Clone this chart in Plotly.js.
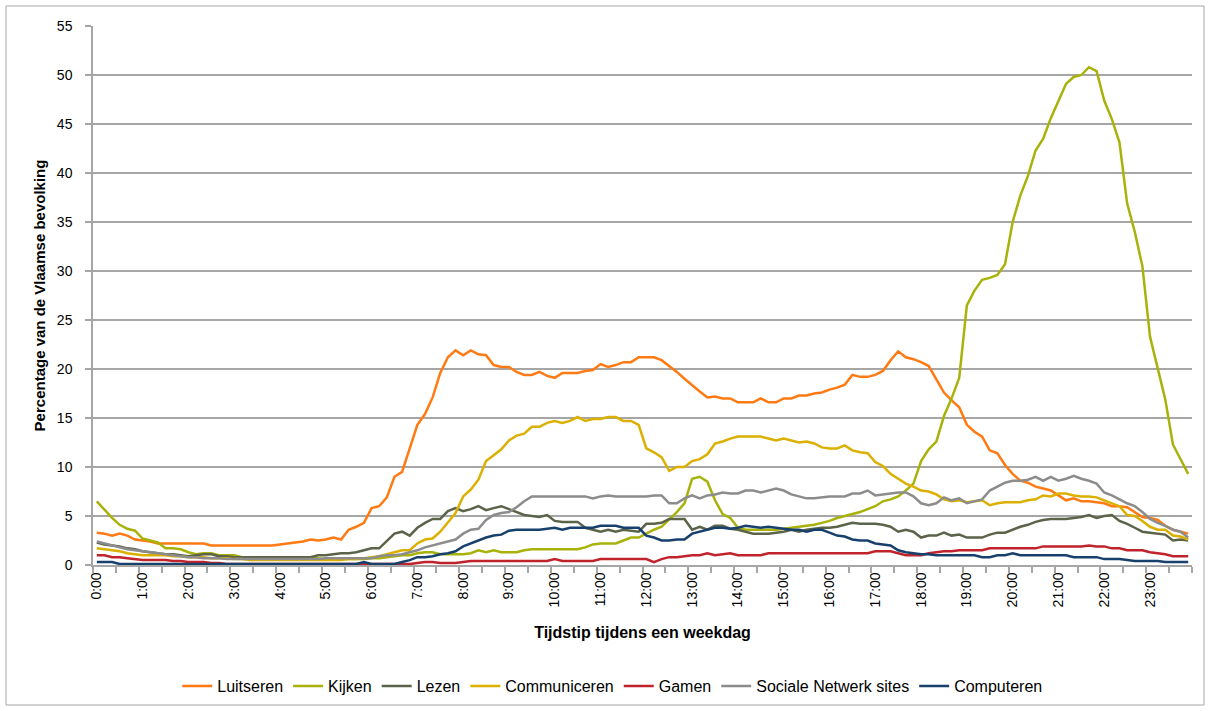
<!DOCTYPE html>
<html><head><meta charset="utf-8">
<script src="https://cdn.plot.ly/plotly-3.0.1.min.js"></script>
<style>html,body{margin:0;padding:0;background:#fff}#chart{width:1210px;height:711px}</style>
</head><body><div id="chart"></div>
<script>
// Categories: 10-minute slots of a weekday
const hourLabels = ['0:00','1:00','2:00','3:00','4:00','5:00','6:00','7:00','8:00','9:00','10:00','11:00','12:00','13:00','14:00','15:00','16:00','17:00','18:00','19:00','20:00','21:00','22:00','23:00'];
const minuteLabels = ['00','10','20','30','40','50'];
const times = [];
hourLabels.forEach(h => minuteLabels.forEach(m => times.push(h.split(':')[0] + ':' + m)));

const luitseren = [3.3,3.2,3.0,3.2,3.0,2.6,2.5,2.4,2.2,2.2,2.2,2.2,
2.2,2.2,2.2,2.0,2.0,2.0,2.0,2.0,2.0,2.0,2.0,2.0,
2.1,2.2,2.3,2.4,2.6,2.5,2.6,2.8,2.6,3.6,3.9,4.3,
5.8,6.0,6.9,9.0,9.5,11.8,14.3,15.4,17.1,19.6,21.2,21.9,
21.4,21.9,21.5,21.4,20.4,20.2,20.2,19.7,19.4,19.4,19.7,19.3,
19.1,19.6,19.6,19.6,19.8,19.9,20.5,20.2,20.4,20.7,20.7,21.2,
21.2,21.2,20.9,20.3,19.7,19.0,18.3,17.7,17.1,17.2,17.0,17.0,
16.6,16.6,16.6,17.0,16.6,16.6,17.0,17.0,17.3,17.3,17.5,17.6,
17.9,18.1,18.4,19.4,19.2,19.2,19.4,19.8,20.9,21.8,21.2,21.0,
20.7,20.3,19.0,17.6,16.8,16.1,14.3,13.6,13.1,11.7,11.4,10.2,
9.3,8.6,8.4,8.0,7.8,7.6,7.1,6.6,6.8,6.5,6.5,6.4,
6.3,6.0,6.0,5.9,5.4,4.9,4.8,4.6,4.0,3.6,3.4,3.2];

const kijken = [6.5,5.6,4.8,4.1,3.7,3.5,2.7,2.5,2.3,1.7,1.7,1.6,
1.3,1.1,1.2,1.2,1.0,1.0,1.0,0.8,0.8,0.8,0.7,0.7,
0.7,0.7,0.7,0.7,0.7,0.7,0.6,0.6,0.6,0.6,0.6,0.6,
0.7,0.7,0.8,0.9,1.0,1.0,1.2,1.3,1.3,1.1,1.1,1.1,
1.1,1.2,1.5,1.3,1.5,1.3,1.3,1.3,1.5,1.6,1.6,1.6,
1.6,1.6,1.6,1.6,1.8,2.1,2.2,2.2,2.2,2.5,2.8,2.8,
3.2,3.6,3.9,4.6,5.4,6.3,8.8,9.0,8.5,6.6,5.2,4.8,
3.8,3.6,3.6,3.6,3.6,3.6,3.7,3.8,3.9,4.0,4.1,4.3,
4.5,4.8,5.0,5.2,5.4,5.7,6.0,6.5,6.7,7.0,7.6,8.3,
10.6,11.8,12.6,15.2,17.0,19.1,26.5,28.0,29.1,29.3,29.6,30.7,
35.0,37.7,39.7,42.3,43.5,45.6,47.4,49.1,49.8,50.0,50.8,50.4,
47.4,45.5,43.1,36.9,34.0,30.5,23.3,20.0,16.9,12.3,10.8,9.3];

const lezen = [2.3,2.1,2.0,1.9,1.7,1.6,1.4,1.3,1.2,1.1,1.1,1.0,
0.9,1.0,1.1,1.1,0.9,0.9,0.8,0.8,0.8,0.8,0.8,0.8,
0.8,0.8,0.8,0.8,0.8,1.0,1.0,1.1,1.2,1.2,1.3,1.5,
1.7,1.7,2.4,3.2,3.4,3.0,3.8,4.3,4.7,4.7,5.5,5.8,
5.5,5.7,6.0,5.6,5.8,6.0,5.7,5.4,5.1,5.0,4.9,5.1,
4.5,4.4,4.4,4.4,3.8,3.6,3.4,3.6,3.4,3.6,3.5,3.4,
4.2,4.2,4.3,4.7,4.7,4.7,3.6,3.9,3.6,4.0,4.0,3.7,
3.6,3.4,3.2,3.2,3.2,3.3,3.4,3.6,3.4,3.6,3.7,3.8,
3.8,3.9,4.1,4.3,4.2,4.2,4.2,4.1,3.9,3.4,3.6,3.4,
2.8,3.0,3.0,3.3,3.0,3.1,2.8,2.8,2.8,3.1,3.3,3.3,
3.6,3.9,4.1,4.4,4.6,4.7,4.7,4.7,4.8,4.9,5.1,4.8,
5.0,5.1,4.5,4.2,3.8,3.4,3.3,3.2,3.1,2.5,2.6,2.5];

const communiceren = [1.7,1.6,1.5,1.4,1.2,1.1,1.0,1.0,1.0,1.0,0.9,0.9,
0.8,0.8,0.8,0.7,0.7,0.7,0.6,0.6,0.5,0.5,0.5,0.5,
0.5,0.5,0.5,0.5,0.5,0.5,0.5,0.5,0.5,0.6,0.6,0.7,
0.8,0.9,1.1,1.3,1.5,1.5,2.2,2.6,2.7,3.4,4.3,5.3,
7.0,7.7,8.7,10.6,11.2,11.8,12.7,13.2,13.4,14.1,14.1,14.5,
14.7,14.5,14.7,15.1,14.7,14.9,14.9,15.1,15.1,14.7,14.7,14.3,
11.9,11.5,11.0,9.6,10.0,10.0,10.6,10.8,11.3,12.4,12.6,12.9,
13.1,13.1,13.1,13.1,12.9,12.7,12.9,12.7,12.5,12.6,12.4,12.0,
11.9,11.9,12.2,11.7,11.5,11.4,10.5,10.1,9.3,8.8,8.3,8.0,
7.6,7.5,7.2,6.7,6.5,6.6,6.4,6.5,6.6,6.1,6.3,6.4,
6.4,6.4,6.6,6.7,7.1,7.0,7.3,7.3,7.1,7.0,7.0,6.9,
6.6,6.3,6.0,5.1,5.0,4.5,3.9,3.6,3.6,3.0,2.9,2.6];

const gamen = [1.0,1.0,0.8,0.8,0.7,0.6,0.5,0.5,0.5,0.5,0.4,0.4,
0.3,0.3,0.3,0.2,0.2,0.1,0.1,0.1,0.1,0.1,0.1,0.1,
0.1,0.1,0.1,0.1,0.1,0.1,0.1,0.1,0.1,0.1,0.1,0.1,
0.1,0.1,0.1,0.1,0.1,0.1,0.2,0.3,0.3,0.2,0.2,0.2,
0.3,0.4,0.4,0.4,0.4,0.4,0.4,0.4,0.4,0.4,0.4,0.4,
0.6,0.4,0.4,0.4,0.4,0.4,0.6,0.6,0.6,0.6,0.6,0.6,
0.6,0.3,0.6,0.8,0.8,0.9,1.0,1.0,1.2,1.0,1.1,1.2,
1.0,1.0,1.0,1.0,1.2,1.2,1.2,1.2,1.2,1.2,1.2,1.2,
1.2,1.2,1.2,1.2,1.2,1.2,1.4,1.4,1.4,1.2,1.0,1.0,
1.0,1.2,1.3,1.4,1.4,1.5,1.5,1.5,1.5,1.7,1.7,1.7,
1.7,1.7,1.7,1.7,1.9,1.9,1.9,1.9,1.9,1.9,2.0,1.9,
1.9,1.7,1.7,1.5,1.5,1.5,1.3,1.2,1.1,0.9,0.9,0.9];

const socialeNetwerk = [2.4,2.2,2.0,1.8,1.6,1.5,1.4,1.3,1.2,1.1,1.0,0.9,
0.8,0.8,0.7,0.7,0.7,0.6,0.6,0.6,0.6,0.6,0.6,0.6,
0.6,0.6,0.6,0.6,0.6,0.6,0.7,0.7,0.7,0.7,0.7,0.7,
0.7,0.9,1.0,1.0,1.1,1.3,1.5,1.8,2.0,2.2,2.4,2.6,
3.2,3.6,3.7,4.6,5.1,5.3,5.4,5.9,6.5,7.0,7.0,7.0,
7.0,7.0,7.0,7.0,7.0,6.8,7.0,7.1,7.0,7.0,7.0,7.0,
7.0,7.1,7.1,6.3,6.3,6.8,7.1,6.8,7.1,7.2,7.4,7.3,
7.3,7.6,7.6,7.4,7.6,7.8,7.6,7.2,7.0,6.8,6.8,6.9,
7.0,7.0,7.0,7.3,7.3,7.6,7.1,7.2,7.3,7.4,7.4,7.0,
6.3,6.1,6.3,6.9,6.6,6.8,6.3,6.5,6.7,7.6,8.0,8.4,
8.6,8.6,8.7,9.0,8.6,9.0,8.6,8.8,9.1,8.8,8.6,8.3,
7.4,7.1,6.7,6.3,6.0,5.4,4.7,4.3,4.0,3.6,3.4,2.8];

const computeren = [0.3,0.3,0.3,0.1,0.1,0.1,0.1,0.1,0.1,0.1,0.1,0.1,
0.1,0.1,0.1,0.1,0.1,0.1,0.1,0.1,0.1,0.1,0.1,0.1,
0.1,0.1,0.1,0.1,0.1,0.1,0.1,0.1,0.1,0.1,0.1,0.3,
0.1,0.1,0.1,0.1,0.3,0.5,0.8,0.8,0.9,1.1,1.2,1.4,
1.9,2.2,2.5,2.8,3.0,3.1,3.5,3.6,3.6,3.6,3.6,3.7,
3.8,3.6,3.8,3.8,3.8,3.8,4.0,4.0,4.0,3.8,3.8,3.8,
3.0,2.8,2.5,2.5,2.6,2.6,3.2,3.4,3.6,3.8,3.8,3.7,
3.8,4.0,3.9,3.8,3.9,3.8,3.7,3.6,3.6,3.4,3.6,3.6,
3.3,3.0,2.9,2.6,2.5,2.5,2.2,2.1,2.0,1.5,1.3,1.2,
1.1,1.1,1.0,1.0,1.0,1.0,1.0,1.0,0.8,0.8,1.0,1.0,
1.2,1.0,1.0,1.0,1.0,1.0,1.0,1.0,0.8,0.8,0.8,0.8,
0.6,0.6,0.6,0.5,0.4,0.4,0.4,0.4,0.3,0.3,0.3,0.3];

const seriesNames = ['Luitseren','Kijken','Lezen','Communiceren','Gamen','Sociale Netwerk sites','Computeren'];
const seriesValues = [luitseren, kijken, lezen, communiceren, gamen, socialeNetwerk, computeren];
const seriesColors = ['#ff7a12','#a8b20a','#5b6349','#dcb000','#c0232c','#8c8c8c','#17406d'];

const idx = times.map((t, i) => i);
const hourPos = hourLabels.map(h => times.indexOf(h));

const traces = seriesNames.map((name, k) => ({
  type: 'scatter', mode: 'lines', name: name,
  x: idx, y: seriesValues[k], text: times,
  line: {color: seriesColors[k], width: 2.5},
  hovertemplate: '%{text}: %{y}<extra>' + name + '</extra>'
}));

const W = 1210, H = 711, ml = 93, mr = 18, mt = 26, mb = 146;
const pw = W - ml - mr, ph = H - mt - mb;
const fam = 'Liberation Sans, Arial, sans-serif';

const layout = {
  width: W, height: H,
  margin: {l: ml, r: mr, t: mt, b: mb, pad: 0},
  paper_bgcolor: '#ffffff', plot_bgcolor: '#ffffff',
  font: {family: fam, color: '#000', size: 13},
  showlegend: true,
  legend: {orientation: 'h', xref: 'container', yref: 'container', x: 0.506, xanchor: 'center', y: 0.035, yanchor: 'middle',
           font: {family: fam, size: 16, color: '#000'}, itemwidth: 30, traceorder: 'normal'},
  xaxis: {
    range: [-0.5, times.length - 0.5], showgrid: false, zeroline: false,
    showline: true, linecolor: '#a6a6a6', linewidth: 1.5,
    tickmode: 'array', tickvals: hourPos, ticktext: hourLabels, ticks: '', tickangle: -90,
    tickfont: {size: 14, family: fam},
    minor: {ticks: 'outside', tick0: -0.5, dtick: 3, ticklen: 6, tickcolor: '#a6a6a6', tickwidth: 1.5, showgrid: false},
    title: {text: 'Tijdstip tijdens een weekdag', font: {size: 16, family: fam, weight: 'bold'}, standoff: 20}
  },
  yaxis: {
    range: [0, 55], dtick: 5, tick0: 0, showgrid: true, gridcolor: '#a6a6a6', gridwidth: 1.5,
    zeroline: false, showline: true, linecolor: '#a6a6a6', linewidth: 1.5,
    ticks: 'outside', ticklen: 6, tickcolor: '#a6a6a6', tickwidth: 1.5, ticklabelstandoff: 10,
    tickfont: {size: 14, family: fam},
    title: {text: 'Percentage van de Vlaamse bevolking', font: {size: 15, family: fam, weight: 'bold'}, standoff: 8}
  },
  shapes: [{type: 'rect', xref: 'paper', yref: 'paper', layer: 'below',
    x0: (6 - ml) / pw, x1: (W - 6 - ml) / pw, y0: -(H - 6 - mt - ph) / ph, y1: (ph + mt - 6) / ph,
    line: {color: '#a6a6a6', width: 1}, fillcolor: 'rgba(0,0,0,0)'}]
};

Plotly.newPlot('chart', traces, layout, {displayModeBar: false, responsive: false});
</script>
</body></html>
